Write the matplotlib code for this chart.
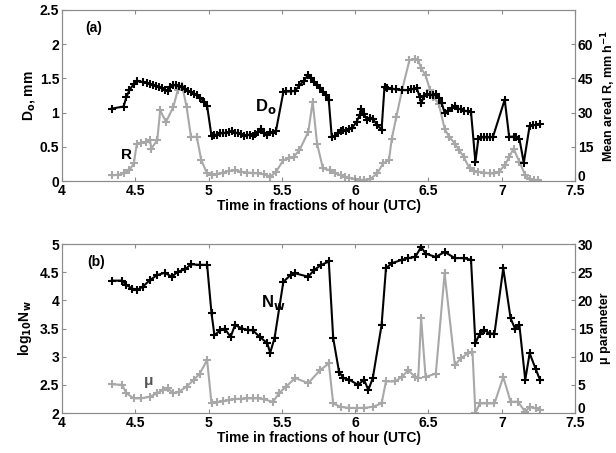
import numpy as np
import matplotlib.pyplot as plt
import matplotlib.transforms as mtransforms

plt.rcParams['font.family'] = ['Liberation Sans', 'DejaVu Sans']
plt.rcParams['font.weight'] = 'bold'
plt.rcParams['font.size'] = 10

# D0 (mm), black, panel (a) left axis
t_d0 = [4.34, 4.42, 4.44, 4.46, 4.49, 4.51, 4.55, 4.58, 4.60, 4.62, 4.64, 4.66, 4.68,
        4.70, 4.72, 4.74, 4.76, 4.78, 4.80, 4.82, 4.84, 4.86, 4.88, 4.90, 4.92, 4.94,
        4.97, 4.99, 5.02, 5.04, 5.06, 5.08, 5.10, 5.12, 5.14, 5.16, 5.18, 5.20, 5.22,
        5.24, 5.26, 5.28, 5.30, 5.32, 5.34, 5.36, 5.38, 5.40, 5.42, 5.44, 5.46, 5.51,
        5.53, 5.56, 5.59, 5.62, 5.65, 5.68, 5.70, 5.72, 5.74, 5.76, 5.78, 5.80, 5.82,
        5.84, 5.86, 5.88, 5.90, 5.92, 5.94, 5.96, 5.98, 6.01, 6.03, 6.04, 6.06, 6.08,
        6.10, 6.12, 6.15, 6.18, 6.20, 6.22, 6.25, 6.28, 6.32, 6.36, 6.38, 6.40, 6.42,
        6.44, 6.45, 6.47, 6.49, 6.51, 6.53, 6.55, 6.57, 6.59, 6.61, 6.63, 6.66, 6.68,
        6.70, 6.72, 6.74, 6.77, 6.79, 6.82, 6.84, 6.86, 6.88, 6.90, 6.92, 6.94, 7.02,
        7.05, 7.08, 7.10, 7.12, 7.15, 7.19, 7.21, 7.23, 7.26]
d0 = [1.06, 1.09, 1.23, 1.33, 1.42, 1.46, 1.45, 1.44, 1.42, 1.40, 1.39, 1.37, 1.36,
      1.33, 1.32, 1.38, 1.40, 1.40, 1.39, 1.37, 1.35, 1.32, 1.30, 1.28, 1.26, 1.22,
      1.16, 1.10, 0.66, 0.68, 0.67, 0.70, 0.70, 0.71, 0.72, 0.73, 0.71, 0.70, 0.69,
      0.66, 0.67, 0.68, 0.66, 0.69, 0.72, 0.76, 0.70, 0.68, 0.72, 0.70, 0.74, 1.30,
      1.31, 1.31, 1.32, 1.40, 1.47, 1.55, 1.50, 1.45, 1.41, 1.36, 1.30, 1.26, 1.18,
      0.65, 0.66, 0.70, 0.73, 0.75, 0.73, 0.76, 0.78, 0.87, 0.96, 1.06, 0.98, 0.90,
      0.93, 0.91, 0.82, 0.75, 1.38, 1.36, 1.35, 1.34, 1.33, 1.33, 1.34, 1.35, 1.36,
      1.23, 1.14, 1.24, 1.28, 1.26, 1.26, 1.27, 1.22, 1.14, 1.00, 1.03, 1.07, 1.10,
      1.06, 1.05, 1.03, 1.02, 1.01, 0.28, 0.62, 0.64, 0.64, 0.64, 0.64, 0.65, 1.19,
      0.65, 0.65, 0.64, 0.62, 0.27, 0.81, 0.82, 0.82, 0.83]

# Mean areal R (mm/h), grey, panel (a) right axis
t_r = [4.34, 4.38, 4.42, 4.46, 4.49, 4.51, 4.54, 4.57, 4.60, 4.61, 4.65, 4.67, 4.71,
       4.76, 4.79, 4.82, 4.85, 4.88, 4.92, 4.95, 4.99, 5.02, 5.06, 5.10, 5.14, 5.18,
       5.22, 5.26, 5.30, 5.34, 5.38, 5.42, 5.46, 5.51, 5.55, 5.58, 5.62, 5.68, 5.71,
       5.74, 5.78, 5.83, 5.86, 5.90, 5.93, 5.96, 6.00, 6.03, 6.06, 6.10, 6.15, 6.19,
       6.23, 6.25, 6.28, 6.32, 6.37, 6.41, 6.43, 6.45, 6.48, 6.51, 6.53, 6.57, 6.61,
       6.64, 6.68, 6.71, 6.74, 6.78, 6.81, 6.84, 6.88, 6.92, 6.95, 6.98, 7.02, 7.05,
       7.08, 7.12, 7.16, 7.19, 7.22, 7.25]
r = [2.6, 2.8, 3.4, 4.8, 7.8, 16.2, 16.8, 17.2, 18.0, 14.3, 18.0, 31.0, 26.0,
     32.6, 40.0, 41.7, 32.6, 19.4, 19.4, 9.2, 3.4, 2.6, 3.2, 3.8, 4.5, 4.8,
     4.2, 3.8, 3.6, 3.4, 3.0, 1.9, 4.1, 9.2, 10.0, 10.7, 13.6, 21.6, 34.8,
     16.5, 5.6, 4.8, 3.6, 2.6, 2.0, 1.5, 0.9, 0.5, 0.6, 0.8, 3.4, 7.8,
     9.2, 18.7, 28.0, 40.0, 53.0, 53.4, 53.0, 49.4, 46.5, 40.0, 37.0, 34.0, 23.0,
     19.5, 16.5, 13.5, 10.7, 5.6, 4.6, 4.1, 3.8, 3.4, 3.4, 4.1, 7.0, 10.5,
     14.3, 8.5, 2.6, 0.9, 0.6, 0.5]

# log10 Nw, black, panel (b) left axis
t_nw = [4.34, 4.41, 4.44, 4.48, 4.51, 4.55, 4.60, 4.65, 4.70, 4.75, 4.79, 4.84, 4.88,
        4.94, 4.99, 5.02, 5.04, 5.08, 5.11, 5.15, 5.18, 5.23, 5.27, 5.30, 5.35, 5.40,
        5.42, 5.45, 5.51, 5.56, 5.59, 5.68, 5.72, 5.77, 5.82, 5.85, 5.89, 5.92, 5.96,
        6.02, 6.06, 6.09, 6.12, 6.18, 6.21, 6.25, 6.32, 6.36, 6.41, 6.45, 6.48, 6.55,
        6.61, 6.68, 6.74, 6.79, 6.82, 6.85, 6.88, 6.92, 6.95, 7.01, 7.06, 7.09, 7.12,
        7.16, 7.19, 7.23, 7.26]
nw = [4.35, 4.35, 4.27, 4.21, 4.18, 4.24, 4.36, 4.45, 4.49, 4.42, 4.51, 4.55, 4.64,
      4.63, 4.63, 3.77, 3.38, 3.47, 3.50, 3.35, 3.56, 3.50, 3.47, 3.47, 3.35, 3.24,
      3.07, 3.33, 4.33, 4.45, 4.48, 4.42, 4.54, 4.63, 4.69, 3.33, 2.73, 2.62, 2.59,
      2.50, 2.59, 2.41, 2.62, 3.56, 4.57, 4.66, 4.72, 4.75, 4.77, 4.95, 4.83, 4.77,
      4.86, 4.75, 4.75, 4.72, 3.24, 3.41, 3.47, 3.41, 3.41, 4.57, 3.68, 3.50, 3.56,
      2.59, 3.06, 2.79, 2.59]

# mu parameter, grey, panel (b) right axis
t_mu = [4.34, 4.41, 4.44, 4.49, 4.54, 4.60, 4.65, 4.69, 4.72, 4.76, 4.80, 4.85, 4.90,
        4.94, 4.99, 5.02, 5.06, 5.10, 5.14, 5.18, 5.22, 5.26, 5.30, 5.34, 5.38, 5.44,
        5.48, 5.53, 5.59, 5.68, 5.76, 5.82, 5.85, 5.90, 5.96, 6.01, 6.06, 6.12, 6.18,
        6.21, 6.27, 6.32, 6.36, 6.41, 6.43, 6.45, 6.48, 6.55, 6.61, 6.68, 6.72, 6.77,
        6.80, 6.82, 6.85, 6.90, 6.95, 7.01, 7.06, 7.11, 7.16, 7.19, 7.23, 7.26]
mu = [5.1, 5.0, 3.5, 2.6, 2.6, 2.9, 3.5, 4.1, 4.4, 3.5, 3.8, 4.7, 5.9,
      7.0, 9.4, 1.7, 1.9, 2.1, 2.3, 2.5, 2.5, 2.6, 2.6, 2.6, 2.4, 2.0,
      3.5, 4.7, 6.2, 5.3, 7.6, 8.8, 1.7, 1.1, 0.9, 0.9, 0.9, 1.1, 1.7,
      5.6, 5.6, 6.4, 7.6, 6.4, 6.2, 16.8, 6.4, 7.0, 24.8, 8.5, 9.7, 10.6,
      10.9, 0.0, 1.7, 1.7, 1.7, 6.4, 2.0, 2.0, 0.2, 1.1, 0.8, 0.5]

black = 'black'
grey = '#a8a8a8'
spine = '#8c8c8c'
mk = dict(marker='+', ms=5.5, mew=1.5, lw=1.5)

fig = plt.figure(figsize=(6.16, 4.53), dpi=100)


def style(ax):
    for s in ax.spines.values():
        s.set_color(spine)
    ax.tick_params(direction='in', length=3, color=spine, labelsize=10, pad=2)


def lift_zero(ax):
    # raise the right-hand "0" a little so it clears the "7.5" below it
    fig.canvas.draw()
    lab = ax.get_yticklabels()[0]
    off = mtransforms.ScaledTranslation(0, 4 / 72, fig.dpi_scale_trans)
    lab.set_transform(lab.get_transform() + off)


# panel (a)
ax1 = fig.add_axes([0.1006, 0.600, 0.833, 0.378])
ax1.plot(t_d0, d0, color=black, **mk, zorder=3)
ax1.set_xlim(4, 7.5)
ax1.set_ylim(0, 2.5)
ax1.set_xticks([4, 4.5, 5, 5.5, 6, 6.5, 7, 7.5])
ax1.set_xticklabels(['4', '4.5', '5', '5.5', '6', '6.5', '7', '7.5'])
ax1.set_yticks([0, 0.5, 1, 1.5, 2, 2.5])
ax1.set_yticklabels(['0', '0.5', '1', '1.5', '2', '2.5'])
ax1.tick_params(top=True)
ax1.set_ylabel('D$_\\mathbf{o}$, mm', fontweight='bold', labelpad=2)
ax1.set_xlabel('Time in fractions of hour (UTC)', fontweight='bold', labelpad=1)
ax1.text(0.045, 0.87, '(a)', transform=ax1.transAxes, fontsize=10, fontweight='bold')
ax1.text(5.32, 1.02, 'D$_\\mathbf{o}$', fontsize=12, fontweight='bold')
ax1.text(4.4, 0.33, 'R', fontsize=11, fontweight='bold')
style(ax1)

ax1r = ax1.twinx()
ax1r.plot(t_r, r, color=grey, **mk, zorder=2)
ax1r.set_ylim(0, 75)
ax1r.set_yticks([0, 15, 30, 45, 60])
ax1r.set_yticklabels(['0', '15', '30', '45', '60'])
ax1r.set_ylabel('Mean areal R, mm h$^{\\mathbf{-1}}$', fontweight='bold',
                fontsize=9, labelpad=4)
style(ax1r)
ax1.set_zorder(ax1r.get_zorder() + 1)
ax1.patch.set_visible(False)

# panel (b)
ax2 = fig.add_axes([0.1006, 0.0883, 0.833, 0.373])
ax2.plot(t_nw, nw, color=black, **mk, zorder=3)
ax2.set_xlim(4, 7.5)
ax2.set_ylim(2, 5)
ax2.set_xticks([4, 4.5, 5, 5.5, 6, 6.5, 7, 7.5])
ax2.set_xticklabels(['4', '4.5', '5', '5.5', '6', '6.5', '7', '7.5'])
ax2.set_yticks([2, 2.5, 3, 3.5, 4, 4.5, 5])
ax2.set_yticklabels(['2', '2.5', '3', '3.5', '4', '4.5', '5'])
ax2.tick_params(top=True)
ax2.set_ylabel('log$_{\\mathbf{10}}$N$_\\mathbf{w}$', fontweight='bold', labelpad=4)
ax2.set_xlabel('Time in fractions of hour (UTC)', fontweight='bold', labelpad=1)
ax2.text(0.05, 0.87, '(b)', transform=ax2.transAxes, fontsize=10, fontweight='bold')
ax2.text(5.36, 3.88, 'N$_\\mathbf{w}$', fontsize=12, fontweight='bold')
ax2.text(4.56, 2.5, 'μ', fontsize=11, color='#555555')
style(ax2)

ax2r = ax2.twinx()
ax2r.plot(t_mu, mu, color=grey, **mk, zorder=2)
ax2r.set_ylim(0, 30)
ax2r.set_yticks([0, 5, 10, 15, 20, 25, 30])
ax2r.set_yticklabels(['0', '5', '10', '15', '20', '25', '30'])
ax2r.set_ylabel('μ parameter', fontweight='bold', fontsize=9, labelpad=4)
style(ax2r)
ax2.set_zorder(ax2r.get_zorder() + 1)
ax2.patch.set_visible(False)

lift_zero(ax1r)
lift_zero(ax2r)

plt.savefig('out.png', dpi=100)
